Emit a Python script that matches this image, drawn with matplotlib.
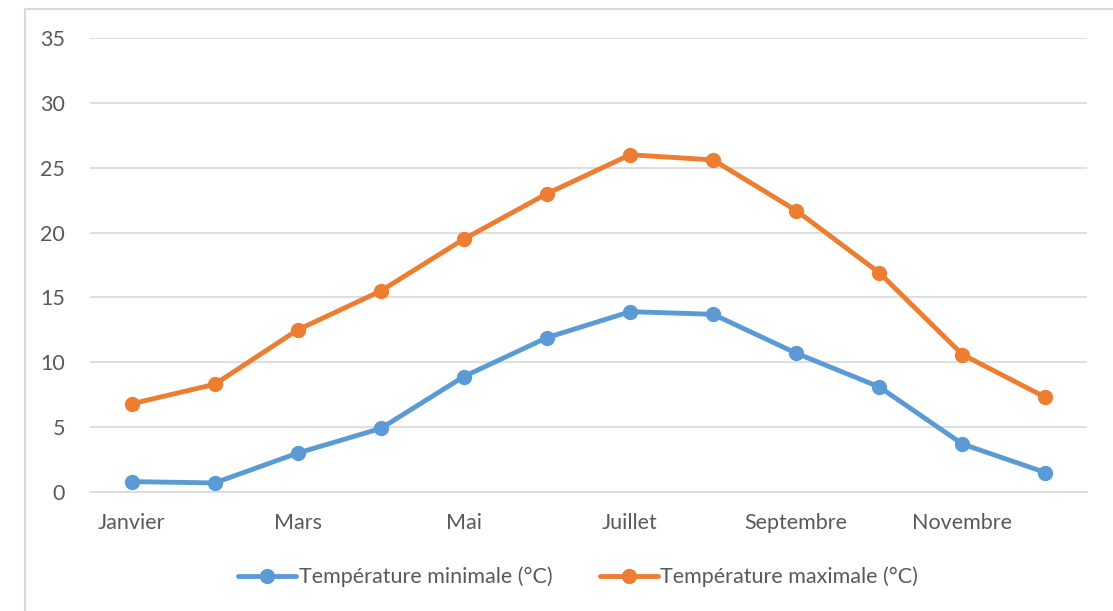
import matplotlib.pyplot as plt
from matplotlib.patches import Rectangle

# === DATA ===
mois = ["Janvier", "Février", "Mars", "Avril", "Mai", "Juin", "Juillet",
        "Août", "Septembre", "Octobre", "Novembre", "Décembre"]
t_min = [0.8, 0.7, 3.0, 4.9, 8.9, 11.9, 13.9, 13.7, 10.7, 8.1, 3.7, 1.5]
t_max = [6.8, 8.3, 12.5, 15.5, 19.5, 23.0, 26.0, 25.6, 21.7, 16.9, 10.6, 7.3]

BLUE = "#5B9BD5"
ORANGE = "#ED7D31"
TXT = "#595959"
GRID = "#D9D9D9"
FS = 15.5

plt.rcParams['font.family'] = ['Lato', 'DejaVu Sans']

fig = plt.figure(figsize=(11.13, 6.11), dpi=100)
ax = fig.add_axes([90 / 1113, 1 - 492 / 611, 997 / 1113, 454 / 611])

# chart frame (Excel-like border)
fig.patches.append(Rectangle((25 / 1113, -0.1), 1.2, 1.1 - 9 / 611,
                             transform=fig.transFigure, fill=False,
                             edgecolor="#D9D9D9", linewidth=1.5, zorder=0))

x = list(range(len(mois)))
ax.plot(x, t_min, color=BLUE, lw=3.5, marker='o', markersize=10,
        label="Température minimale (°C)", solid_capstyle='round', zorder=3)
ax.plot(x, t_max, color=ORANGE, lw=3.5, marker='o', markersize=10,
        label="Température maximale (°C)", solid_capstyle='round', zorder=3)

ax.set_xlim(-0.5, 11.5)
ax.set_ylim(0, 35)
ax.set_yticks(range(0, 36, 5))
ax.set_xticks(x[::2])
ax.set_xticklabels(mois[::2])
ax.grid(axis='y', color=GRID, lw=1.2)
ax.set_axisbelow(True)
for s in ['top', 'right', 'left']:
    ax.spines[s].set_visible(False)
ax.spines['bottom'].set_color(GRID)
ax.spines['bottom'].set_linewidth(1.2)
ax.tick_params(axis='both', length=0, colors=TXT, labelsize=FS)
ax.tick_params(axis='y', pad=18)
ax.tick_params(axis='x', pad=15)

leg = ax.legend(loc='center', bbox_to_anchor=(578 / 1113, 1 - 577 / 611),
                bbox_transform=fig.transFigure, ncol=2, frameon=False,
                fontsize=FS, handlelength=2.7, handletextpad=0.1,
                columnspacing=2.2)
for t in leg.get_texts():
    t.set_color(TXT)

fig.savefig("out.png", dpi=100)
